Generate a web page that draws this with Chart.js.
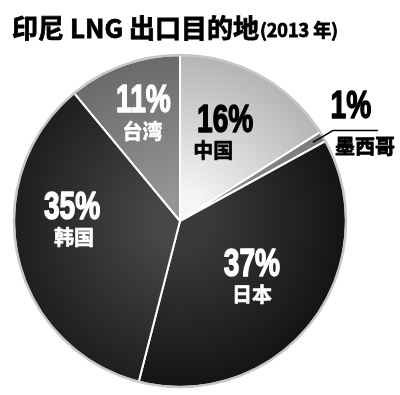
<!DOCTYPE html>
<html><head><meta charset="utf-8">
<script src="https://cdn.jsdelivr.net/npm/chart.js@4/dist/chart.umd.min.js"></script>
<style>html,body{margin:0;padding:0;background:#fff}#wrap{width:400px;height:395px;position:relative}canvas{display:block}</style>
</head><body><div id="wrap"><canvas id="c" width="400" height="395"></canvas></div>
<script>
// ---- data ----
const categories = ['中国', '墨西哥', '日本', '韩国', '台湾'];
const shares = [16, 1, 37, 35, 11];
const titleMain = '印尼 LNG 出口目的地';
const titleSub = '(2013 年)';

// ---- styles ----
const innerColors = ['#f6f6f6', '#8c8c8c', '#3a3a3a', '#474747', '#959595'];
const outerColors = ['#b4b4b4', '#7a7a7a', '#141414', '#1e1e1e', '#6a6a6a'];
const textColors  = ['#000', '#000', '#fff', '#fff', '#fff'];
const labelRadius = [0.57, 0, 0.56, 0.65, 0.67];
const labelAngleShift = [-3, 0, 1.5, 12, 0.6];
const nameShiftX = [-8, 0, 0, 2, -1];
const externalIdx = 1;

function grad(ctx) {
  const chart = ctx.chart, a = chart.chartArea;
  if (!a) return innerColors[ctx.dataIndex];
  const cx = (a.left + a.right) / 2, cy = (a.top + a.bottom) / 2;
  const r = Math.min(a.right - a.left, a.bottom - a.top) / 2;
  const g = chart.ctx.createRadialGradient(cx, cy, 0, cx, cy, r);
  g.addColorStop(0.15, innerColors[ctx.dataIndex]);
  g.addColorStop(1, outerColors[ctx.dataIndex]);
  return g;
}

function boldText(c, txt, x, y, font, color, sx, lw) {
  c.save();
  c.font = font; c.fillStyle = color; c.strokeStyle = color; c.lineWidth = lw;
  c.lineJoin = 'round';
  c.textAlign = 'center'; c.textBaseline = 'middle';
  c.translate(x, y); c.scale(sx, 1);
  c.fillText(txt, 0, 0); if (lw > 0) c.strokeText(txt, 0, 0);
  c.restore();
}

const labelPlugin = {
  id: 'labels',
  afterDatasetsDraw(chart) {
    const c = chart.ctx;
    const meta = chart.getDatasetMeta(0);
    const arc0 = meta.data[0];
    const cx = arc0.x, cy = arc0.y, R = arc0.outerRadius;
    // outer rim
    c.save();
    c.beginPath(); c.arc(cx, cy, R, 0, Math.PI * 2);
    c.strokeStyle = '#c6c6c6'; c.lineWidth = 2.5; c.stroke();
    c.restore();
    const pctFont = 'bold 38px "Liberation Sans", Arial, sans-serif';
    const nameFont = 'bold 20px "Noto Sans CJK SC", sans-serif';
    meta.data.forEach((el, i) => {
      const mid = (el.startAngle + el.endAngle) / 2;
      const pct = shares[i] + '%';
      if (i === externalIdx) {
        const p0 = { x: cx + Math.cos(mid) * R * 0.93, y: cy + Math.sin(mid) * R * 0.93 };
        const p1 = { x: cx + Math.cos(mid) * R * 1.07, y: cy + Math.sin(mid) * R * 1.07 };
        c.save();
        c.strokeStyle = '#000'; c.lineWidth = 1.5;
        c.beginPath(); c.moveTo(p0.x, p0.y); c.lineTo(p1.x, p1.y); c.lineTo(p1.x + 45, p1.y); c.stroke();
        c.restore();
        boldText(c, pct, p1.x + 18, p1.y - 23, pctFont, '#000', 0.74, 1.5);
        boldText(c, categories[i], p1.x + 32, p1.y + 16, 'bold 20px "Noto Sans CJK SC", sans-serif', '#000', 1, 0.8);
        return;
      }
      const ang = mid + labelAngleShift[i] * Math.PI / 180;
      const x = cx + Math.cos(ang) * R * labelRadius[i];
      const y = cy + Math.sin(ang) * R * labelRadius[i];
      boldText(c, pct, x + (i === 0 ? 4 : 0), y - 14, pctFont, textColors[i], 0.74, 1.5);
      boldText(c, categories[i], x + nameShiftX[i], y + 15, nameFont, textColors[i], 1, 0.6);
    });
    // title
    c.save();
    c.fillStyle = '#000'; c.strokeStyle = '#000'; c.lineWidth = 0.8;
    c.textBaseline = 'middle'; c.textAlign = 'left';
    c.font = 'bold 26px "Noto Sans CJK SC", sans-serif';
    c.fillText(titleMain, 12, 28); c.strokeText(titleMain, 12, 28);
    const w = c.measureText(titleMain).width;
    c.font = 'bold 18px "Noto Sans CJK SC", sans-serif';
    c.fillText(titleSub, 12 + w + 1, 30); c.strokeText(titleSub, 12 + w + 1, 30);
    c.restore();
  }
};

new Chart(document.getElementById('c'), {
  type: 'pie',
  data: {
    labels: categories,
    datasets: [{
      data: shares,
      backgroundColor: grad,
      borderColor: '#ffffff',
      borderWidth: 2
    }]
  },
  options: {
    responsive: false,
    animation: false,
    layout: { padding: { left: 13, top: 54, right: 53, bottom: 7 } },
    plugins: { legend: { display: false }, tooltip: { enabled: false }, title: { display: false } }
  },
  plugins: [labelPlugin]
});
</script></body></html>
